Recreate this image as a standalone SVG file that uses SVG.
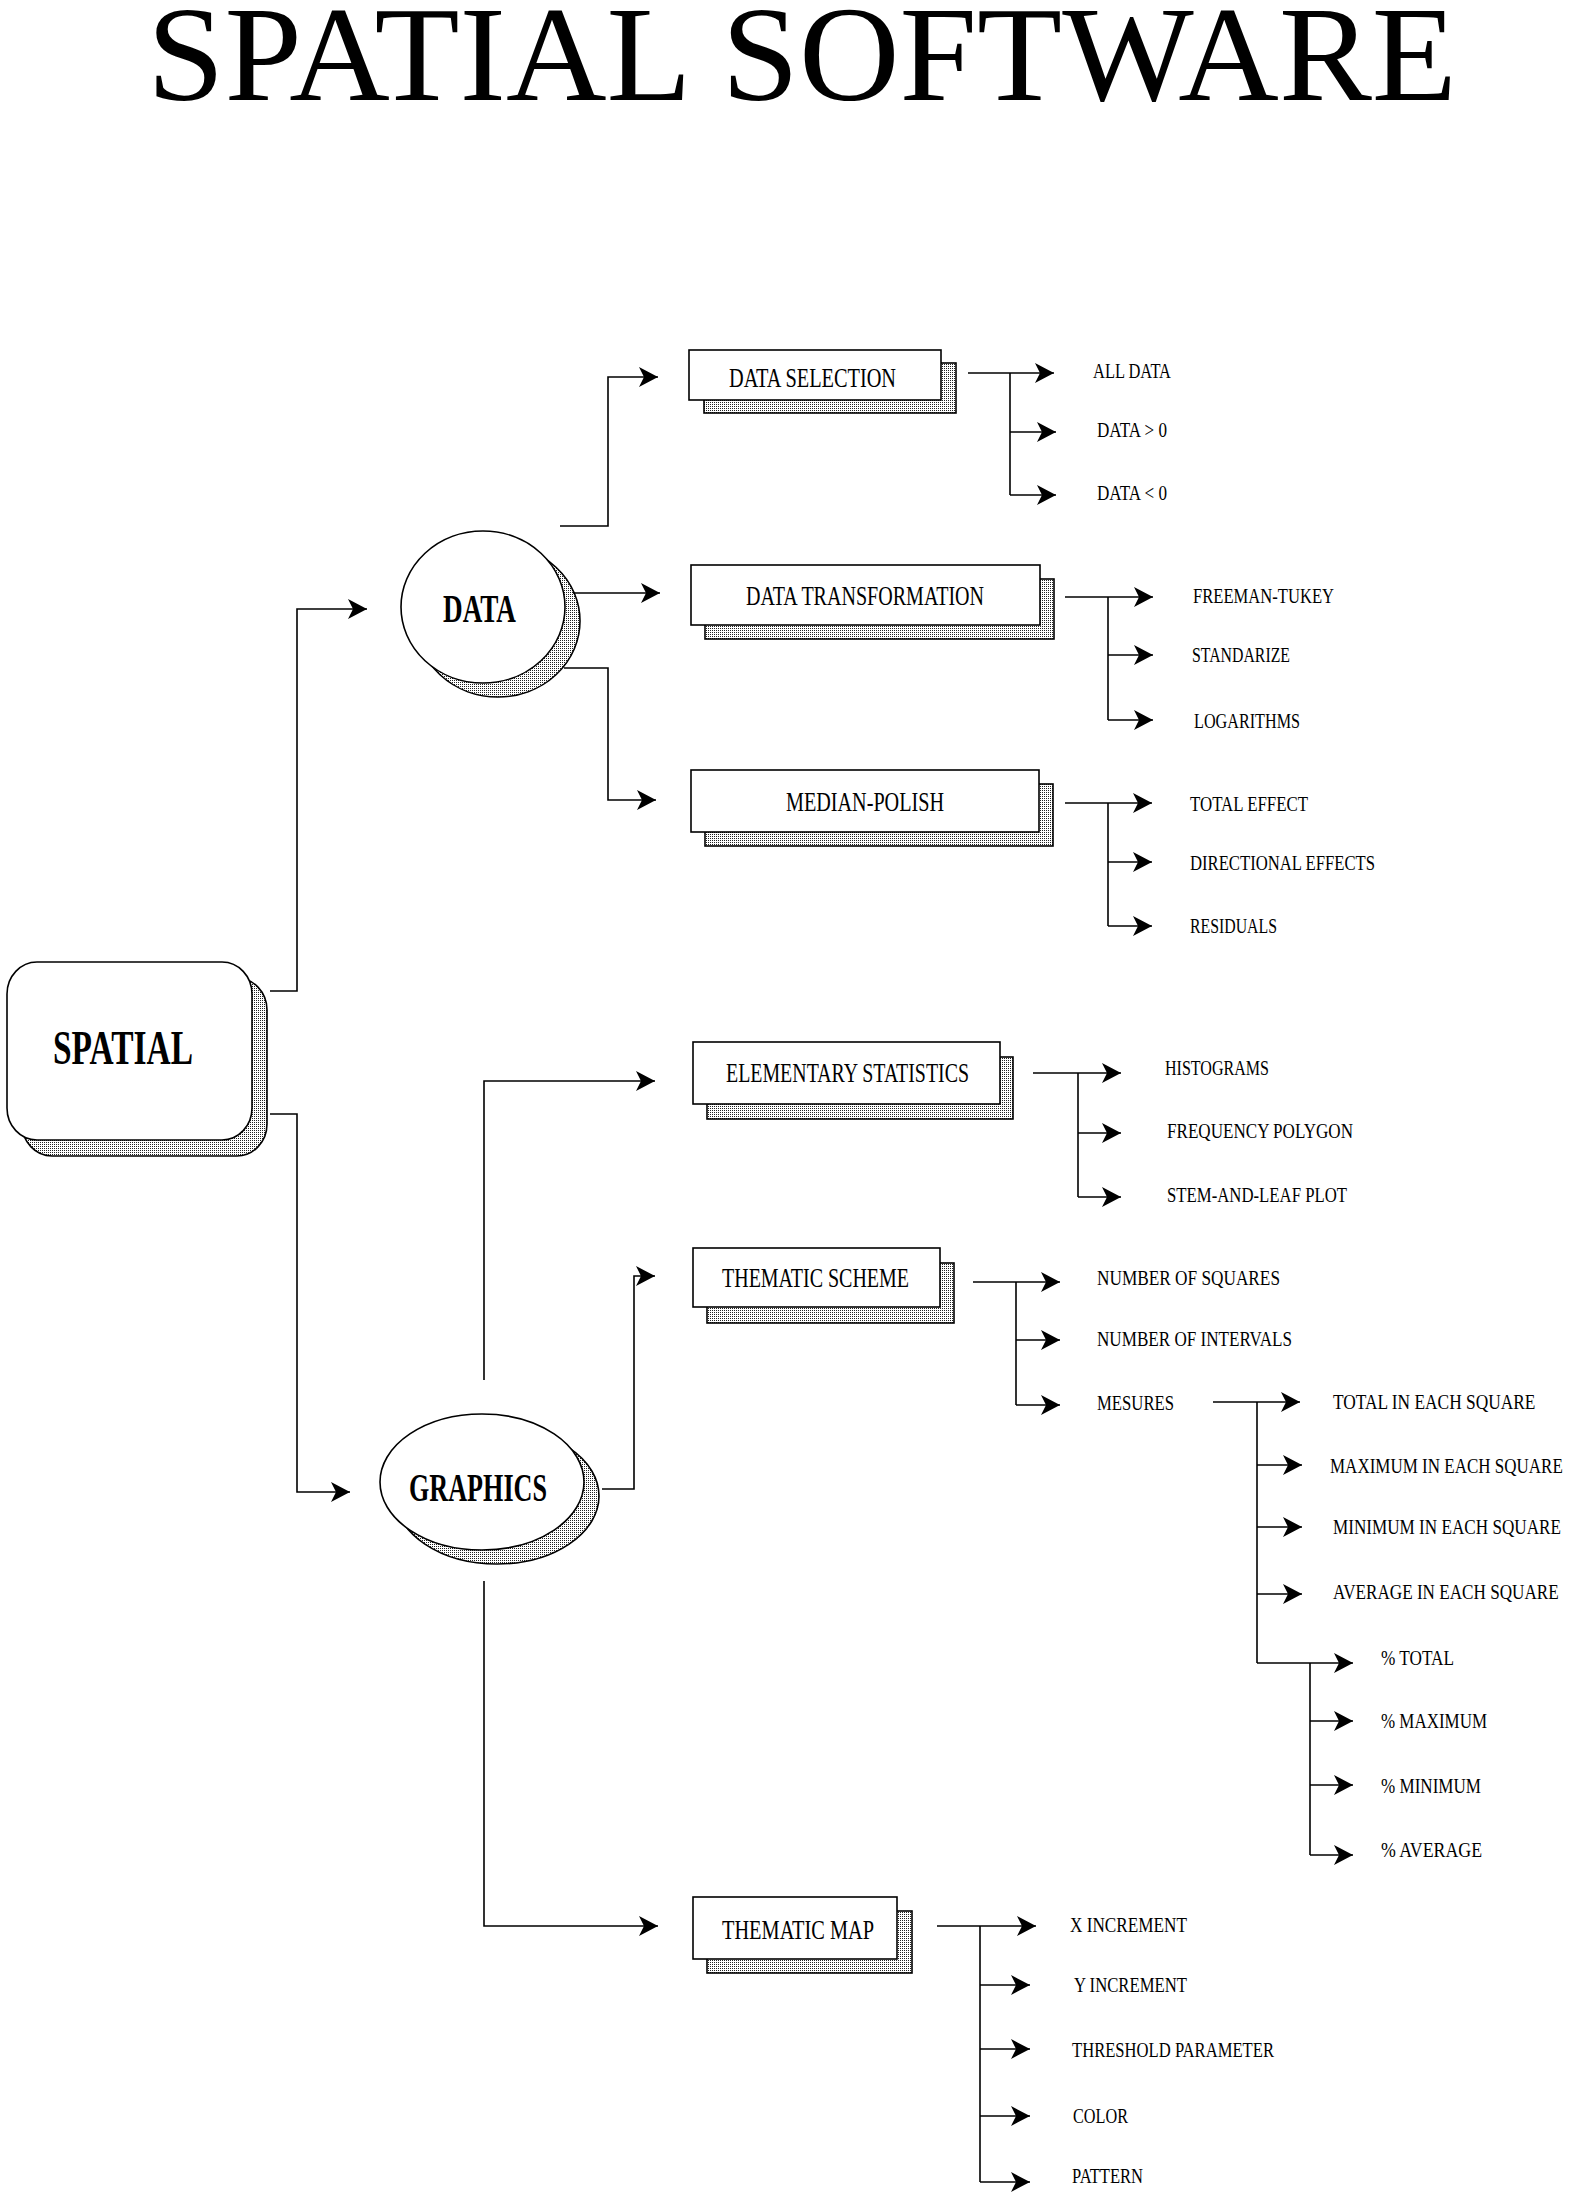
<svg xmlns="http://www.w3.org/2000/svg" width="1579" height="2196" viewBox="0 0 1579 2196">
<style>
  text { font-family: "Liberation Serif", "Times New Roman", serif; fill: #000; }
  .title { font-size: 136px; }
  .main { font-size: 48px; font-weight: bold; }
  .sub { font-size: 39px; font-weight: bold; }
  .box { font-size: 28px; }
  .lbl { font-size: 21px; }
  .node { fill: #fff; stroke: #000; stroke-width: 1.6; }
  .shadow { fill: url(#dots); stroke: #000; stroke-width: 1.6; }
  .conn path { fill: none; stroke: #000; stroke-width: 1.6; }
  .conn .arr { marker-end: url(#ah); }
</style>
<defs>
  <pattern id="dots" width="2" height="2" patternUnits="userSpaceOnUse">
    <rect width="2" height="2" fill="#fff"/>
    <rect width="1" height="1" fill="#222"/>
  </pattern>
  <marker id="ah" markerUnits="userSpaceOnUse" markerWidth="22" markerHeight="22" refX="19" refY="10" orient="auto">
    <path d="M0,0 L19,10 L0,20 L5,10 Z" fill="#000"/>
  </marker>
</defs>
<rect width="1579" height="2196" fill="#fff"/>

<text class="title" x="147" y="100" textLength="1310" lengthAdjust="spacingAndGlyphs">SPATIAL SOFTWARE</text>

<g id="spatial">
  <rect class="shadow" x="22" y="978" width="245" height="178" rx="30" ry="32"/>
  <rect class="node" x="7" y="962" width="245" height="178" rx="30" ry="32"/>
  <text class="main" x="53" y="1064" textLength="140" lengthAdjust="spacingAndGlyphs">SPATIAL</text>
</g>

<g id="data">
  <ellipse class="shadow" cx="498" cy="621" rx="82" ry="76"/>
  <ellipse class="node" cx="483" cy="607" rx="82" ry="76"/>
  <text class="sub" x="443" y="622" textLength="73" lengthAdjust="spacingAndGlyphs">DATA</text>
</g>

<g id="graphics">
  <ellipse class="shadow" cx="497" cy="1496" rx="102" ry="68"/>
  <ellipse class="node" cx="482" cy="1482" rx="102" ry="68"/>
  <text class="sub" x="409" y="1501" textLength="138" lengthAdjust="spacingAndGlyphs">GRAPHICS</text>
</g>

<g id="data-selection">
  <rect class="shadow" x="704" y="363" width="252" height="50"/>
  <rect class="node" x="689" y="350" width="252" height="50"/>
  <text class="box" x="729" y="387" textLength="167" lengthAdjust="spacingAndGlyphs">DATA SELECTION</text>
</g>

<g id="data-transformation">
  <rect class="shadow" x="705" y="579" width="349" height="60"/>
  <rect class="node" x="691" y="565" width="349" height="60"/>
  <text class="box" x="746" y="605" textLength="238" lengthAdjust="spacingAndGlyphs">DATA TRANSFORMATION</text>
</g>

<g id="median-polish">
  <rect class="shadow" x="705" y="784" width="348" height="62"/>
  <rect class="node" x="691" y="770" width="348" height="62"/>
  <text class="box" x="786" y="811" textLength="158" lengthAdjust="spacingAndGlyphs">MEDIAN-POLISH</text>
</g>

<g id="elementary-statistics">
  <rect class="shadow" x="707" y="1057" width="306" height="62"/>
  <rect class="node" x="693" y="1042" width="307" height="62"/>
  <text class="box" x="726" y="1082" textLength="243" lengthAdjust="spacingAndGlyphs">ELEMENTARY STATISTICS</text>
</g>

<g id="thematic-scheme">
  <rect class="shadow" x="707" y="1263" width="247" height="60"/>
  <rect class="node" x="693" y="1248" width="247" height="59"/>
  <text class="box" x="722" y="1287" textLength="187" lengthAdjust="spacingAndGlyphs">THEMATIC SCHEME</text>
</g>

<g id="thematic-map">
  <rect class="shadow" x="707" y="1911" width="205" height="62"/>
  <rect class="node" x="693" y="1897" width="204" height="62"/>
  <text class="box" x="722" y="1939" textLength="152" lengthAdjust="spacingAndGlyphs">THEMATIC MAP</text>
</g>

<g id="leaves">
  <text class="lbl" x="1093" y="378" textLength="78" lengthAdjust="spacingAndGlyphs">ALL DATA</text>
  <text class="lbl" x="1097" y="437" textLength="70" lengthAdjust="spacingAndGlyphs">DATA &gt; 0</text>
  <text class="lbl" x="1097" y="500" textLength="70" lengthAdjust="spacingAndGlyphs">DATA &lt; 0</text>

  <text class="lbl" x="1193" y="603" textLength="141" lengthAdjust="spacingAndGlyphs">FREEMAN-TUKEY</text>
  <text class="lbl" x="1192" y="662" textLength="98" lengthAdjust="spacingAndGlyphs">STANDARIZE</text>
  <text class="lbl" x="1194" y="728" textLength="106" lengthAdjust="spacingAndGlyphs">LOGARITHMS</text>

  <text class="lbl" x="1190" y="811" textLength="118" lengthAdjust="spacingAndGlyphs">TOTAL EFFECT</text>
  <text class="lbl" x="1190" y="870" textLength="185" lengthAdjust="spacingAndGlyphs">DIRECTIONAL EFFECTS</text>
  <text class="lbl" x="1190" y="933" textLength="87" lengthAdjust="spacingAndGlyphs">RESIDUALS</text>

  <text class="lbl" x="1165" y="1075" textLength="104" lengthAdjust="spacingAndGlyphs">HISTOGRAMS</text>
  <text class="lbl" x="1167" y="1138" textLength="186" lengthAdjust="spacingAndGlyphs">FREQUENCY POLYGON</text>
  <text class="lbl" x="1167" y="1202" textLength="180" lengthAdjust="spacingAndGlyphs">STEM-AND-LEAF PLOT</text>

  <text class="lbl" x="1097" y="1285" textLength="183" lengthAdjust="spacingAndGlyphs">NUMBER OF SQUARES</text>
  <text class="lbl" x="1097" y="1346" textLength="195" lengthAdjust="spacingAndGlyphs">NUMBER OF INTERVALS</text>
  <text class="lbl" x="1097" y="1410" textLength="77" lengthAdjust="spacingAndGlyphs">MESURES</text>

  <text class="lbl" transform="translate(1333,1409) scale(0.827,1)">TOTAL IN EACH SQUARE</text>
  <text class="lbl" transform="translate(1330,1473) scale(0.81,1)">MAXIMUM IN EACH SQUARE</text>
  <text class="lbl" transform="translate(1333,1534) scale(0.816,1)">MINIMUM IN EACH SQUARE</text>
  <text class="lbl" transform="translate(1333,1599) scale(0.816,1)">AVERAGE IN EACH SQUARE</text>
  <text class="lbl" x="1381" y="1665" textLength="73" lengthAdjust="spacingAndGlyphs">% TOTAL</text>
  <text class="lbl" x="1381" y="1728" textLength="106" lengthAdjust="spacingAndGlyphs">% MAXIMUM</text>
  <text class="lbl" x="1381" y="1793" textLength="100" lengthAdjust="spacingAndGlyphs">% MINIMUM</text>
  <text class="lbl" x="1381" y="1857" textLength="101" lengthAdjust="spacingAndGlyphs">% AVERAGE</text>

  <text class="lbl" x="1070" y="1932" textLength="117" lengthAdjust="spacingAndGlyphs">X INCREMENT</text>
  <text class="lbl" x="1074" y="1992" textLength="113" lengthAdjust="spacingAndGlyphs">Y INCREMENT</text>
  <text class="lbl" x="1072" y="2057" textLength="202" lengthAdjust="spacingAndGlyphs">THRESHOLD PARAMETER</text>
  <text class="lbl" x="1073" y="2123" textLength="55" lengthAdjust="spacingAndGlyphs">COLOR</text>
  <text class="lbl" x="1072" y="2183" textLength="71" lengthAdjust="spacingAndGlyphs">PATTERN</text>
</g>

<g id="connectors" class="conn">
  <!-- SPATIAL -->
  <path class="arr" d="M270,991 H297 V609 H367"/>
  <path class="arr" d="M270,1114 H297 V1492 H350"/>
  <!-- DATA -->
  <path class="arr" d="M560,526 H608 V377 H658"/>
  <path class="arr" d="M573,593 H660"/>
  <path class="arr" d="M564,668 H608 V800 H656"/>
  <!-- GRAPHICS -->
  <path class="arr" d="M484,1380 V1081 H655"/>
  <path class="arr" d="M602,1489 H634 V1276 H655"/>
  <path class="arr" d="M484,1581 V1926 H658"/>
  <!-- DATA SELECTION -->
  <path class="arr" d="M968,373 H1054"/>
  <path d="M1010,373 V495"/>
  <path class="arr" d="M1010,432 H1056"/>
  <path class="arr" d="M1010,495 H1056"/>
  <!-- DATA TRANSFORMATION -->
  <path class="arr" d="M1065,597 H1153"/>
  <path d="M1108,597 V720"/>
  <path class="arr" d="M1108,655 H1153"/>
  <path class="arr" d="M1108,720 H1153"/>
  <!-- MEDIAN-POLISH -->
  <path class="arr" d="M1065,803 H1152"/>
  <path d="M1108,803 V926"/>
  <path class="arr" d="M1108,862 H1152"/>
  <path class="arr" d="M1108,926 H1152"/>
  <!-- ELEMENTARY STATISTICS -->
  <path class="arr" d="M1033,1073 H1121"/>
  <path d="M1078,1073 V1197"/>
  <path class="arr" d="M1078,1133 H1121"/>
  <path class="arr" d="M1078,1197 H1121"/>
  <!-- THEMATIC SCHEME -->
  <path class="arr" d="M973,1282 H1060"/>
  <path d="M1016,1282 V1405"/>
  <path class="arr" d="M1016,1340 H1060"/>
  <path class="arr" d="M1016,1405 H1060"/>
  <!-- MESURES -->
  <path class="arr" d="M1213,1402 H1300"/>
  <path d="M1257,1402 V1663"/>
  <path class="arr" d="M1257,1465 H1302"/>
  <path class="arr" d="M1257,1527 H1302"/>
  <path class="arr" d="M1257,1594 H1302"/>
  <path class="arr" d="M1257,1663 H1353"/>
  <path d="M1310,1663 V1855"/>
  <path class="arr" d="M1310,1721 H1353"/>
  <path class="arr" d="M1310,1785 H1353"/>
  <path class="arr" d="M1310,1855 H1353"/>
  <!-- THEMATIC MAP -->
  <path class="arr" d="M937,1926 H1036"/>
  <path d="M980,1926 V2182"/>
  <path class="arr" d="M980,1985 H1030"/>
  <path class="arr" d="M980,2049 H1030"/>
  <path class="arr" d="M980,2116 H1030"/>
  <path class="arr" d="M980,2182 H1030"/>
</g>
</svg>
